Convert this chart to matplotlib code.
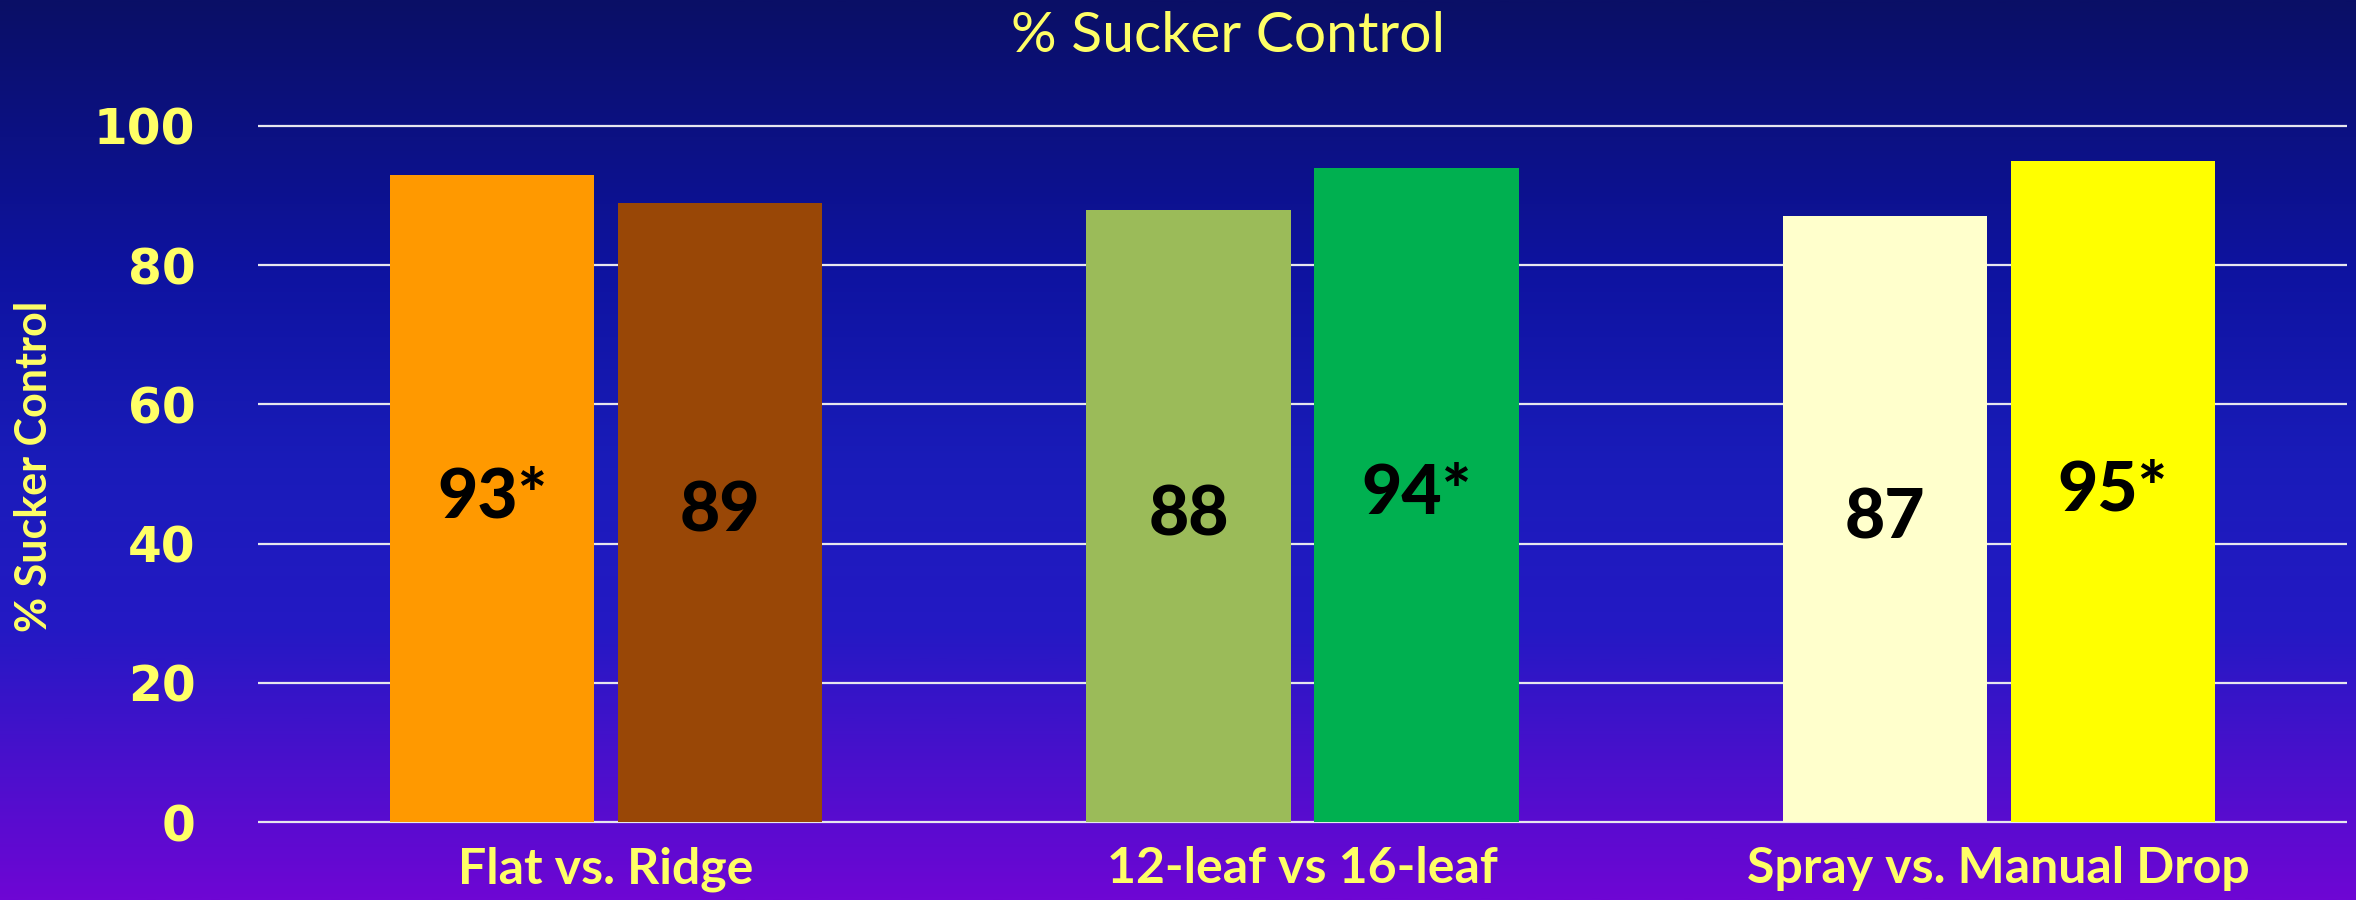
import numpy as np
import matplotlib
matplotlib.use("Agg")
import matplotlib.pyplot as plt
from matplotlib.colors import LinearSegmentedColormap

# ---- data ----
categories = ["Flat vs. Ridge", "12-leaf vs 16-leaf", "Spray vs. Manual Drop"]
first_values = [93, 88, 87]
second_values = [89, 94, 95]
first_labels = ["93*", "88", "87"]
second_labels = ["89", "94*", "95*"]
first_colors = ["#ff9900", "#9bbb59", "#ffffcc"]
second_colors = ["#994706", "#00b050", "#ffff00"]
yticks = [0, 20, 40, 60, 80, 100]

W, H = 2356, 900
fig = plt.figure(figsize=(W / 100, H / 100), dpi=100)

# background gradient
bg = fig.add_axes([0, 0, 1, 1], zorder=-10)
stops = [(0.0, "#0a0f66"), (0.30, "#0e13a0"), (0.52, "#1a1cba"),
         (0.70, "#2419c4"), (0.85, "#4a10cc"), (1.0, "#6e06d4")]
cmap = LinearSegmentedColormap.from_list("bg", stops)
grad = np.linspace(0, 1, 512).reshape(-1, 1)
bg.imshow(grad, aspect="auto", cmap=cmap, extent=[0, 1, 0, 1], origin="upper")
bg.set_axis_off()

# main axes
y_lo, y_hi = -0.5, 100.5
px_per_unit = (822 - 126) / 100.0
bottom_px = 822 + 0.5 * px_per_unit
top_px = 126 - 0.5 * px_per_unit
left_px, right_px = 258, 2347
ax = fig.add_axes([left_px / W, 1 - bottom_px / H, (right_px - left_px) / W,
                   (bottom_px - top_px) / H])
ax.set_facecolor("none")
ax.set_xlim(-0.5, 2.5)
ax.set_ylim(y_lo, y_hi)

x = np.arange(len(categories))
bw = 0.293
off = bw / 2 + 0.0172
for yv in yticks:
    ax.axhline(yv, color="#e6e6ee", lw=1.6, zorder=1)
ax.bar(x - off, first_values, width=bw, color=first_colors, zorder=2)
ax.bar(x + off, second_values, width=bw, color=second_colors, zorder=2)

lab_font = "Lato"
for xi, v, t in zip(x - off, first_values, first_labels):
    ax.text(xi, v / 2, t, ha="center", va="center", fontsize=50,
            fontweight="black", family=lab_font, color="black", zorder=3)
for xi, v, t in zip(x + off, second_values, second_labels):
    ax.text(xi, v / 2, t, ha="center", va="center", fontsize=50,
            fontweight="black", family=lab_font, color="black", zorder=3)

for s in ax.spines.values():
    s.set_visible(False)
ax.set_yticks(yticks)
ax.set_yticklabels([str(t) for t in yticks], fontsize=35, fontweight="bold",
                   family="DejaVu Sans", color="#ffff66")
ax.tick_params(axis="y", length=0, pad=45)
ax.set_xticks(x)
ax.set_xticklabels(categories, fontsize=36, fontweight="bold", family=lab_font,
                   color="#ffff66")
ax.tick_params(axis="x", length=0, pad=15)

fig.text(1228 / W, 1 - 36 / H, "% Sucker Control", ha="center", va="center",
         fontsize=41, family=lab_font, color="#ffff66")
fig.text(34 / W, 1 - 466 / H, "% Sucker Control", ha="center", va="center",
         rotation=90, fontsize=31, fontweight="bold", family=lab_font,
         color="#ffff66")

fig.savefig("out.png", dpi=100)
